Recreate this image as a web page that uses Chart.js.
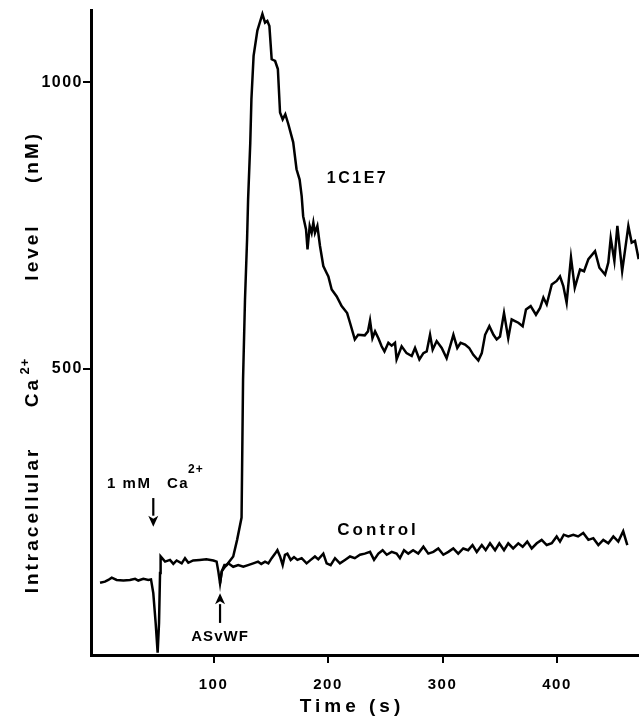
<!DOCTYPE html>
<html>
<head>
<meta charset="utf-8">
<script src="https://cdn.jsdelivr.net/npm/chart.js@4"></script>
<style>
html,body{margin:0;padding:0;background:#fff;}
#wrap{width:639px;height:718px;position:relative;}
</style>
</head>
<body>
<div id="wrap"><canvas id="c"></canvas></div>
<script>
// ---- Data (time in s, Ca2+ in nM) ----
const sampleTimes = [0.9,5.2,8.1,11.1,15.4,21.3,27.0,31.5,34.3,38.7,43.1,45.4,47.4,49.5,51.2,52.4,53.3,53.8,57.7,62.0,64.9,67.8,72.2,75.1,78.0,82.2,87.9,93.7,99.9,102.7,104.2,105.7,107.2,109.5,111.5,117.2,120.6,124.5,125.8,127.5,129.3,130.2,132.1,133.1,135.0,138.3,142.7,145.0,147.0,148.8,150.8,153.8,156.2,158.1,160.4,162.7,165.3,169.6,172.5,175.2,177.0,178.3,180.8,182.1,184.0,185.7,187.2,188.6,190.7,193.0,195.9,198.8,200.3,203.2,207.6,211.9,216.7,219.2,223.4,226.3,232.1,234.9,236.7,238.8,241.1,244.0,246.8,249.3,252.7,255.6,258.5,259.9,264.3,268.6,273.1,276.0,279.8,283.3,286.2,289.1,291.4,294.9,299.3,303.6,309.5,312.9,315.8,319.7,323.3,326.9,331.3,334.3,337.2,340.9,344.5,347.3,350.2,353.7,357.4,360.4,363.3,366.2,370.0,372.9,377.0,381.6,385.2,388.1,391.0,395.4,399.7,402.6,405.5,408.4,412.2,415.5,420.1,423.6,427.4,433.2,437.0,442.0,444.8,446.9,450.1,452.7,456.9,462.3,465.2,468.1,471.3];
const sampleValues = [126,128,131,135,131,130,131,133,130,133,131,132,108,55,4,55,143,172,163,166,159,165,160,169,161,165,166,167,165,163,146,125,146,157,157,172,201,240,481,621,725,795,894,970,1046,1090,1119,1104,1107,1098,1040,1037,1023,947,935,944,927,895,848,830,801,766,743,708,749,737,755,737,749,714,679,667,661,638,626,609,597,580,551,559,558,565,584,553,565,553,539,530,545,540,545,516,539,527,522,536,516,527,530,559,533,548,536,518,559,536,545,542,536,524,514,527,559,574,559,551,556,597,553,586,583,580,574,603,609,594,606,624,612,647,653,661,644,615,694,641,673,670,691,705,676,664,685,728,688,749,670,749,720,723,691];
const controlTimes = [105.7,107.2,110.0,112.9,117.2,121.6,126.0,130.2,134.7,138.9,141.7,145.0,147.9,150.8,153.8,155.8,158.1,160.4,162.4,164.5,167.4,170.3,173.3,177.0,181.3,184.9,188.6,191.5,195.9,198.8,202.3,206.1,210.4,214.8,219.2,223.4,227.9,232.1,236.7,240.2,244.0,247.7,251.3,255.6,259.9,262.8,266.4,270.1,274.3,278.8,283.3,287.6,292.0,296.3,300.7,305.1,309.4,313.7,318.1,322.4,326.2,329.9,334.3,337.7,341.5,345.9,349.6,353.7,357.4,361.7,366.2,370.0,374.0,377.9,382.3,386.6,391.0,395.4,399.7,402.6,405.9,409.8,414.2,418.4,422.9,427.4,431.7,436.1,440.4,444.8,449.2,453.5,457.8,461.4];
const controlValues = [125,146,154,160,154,157,154,157,160,163,159,163,160,169,177,183,172,157,175,177,166,171,166,169,160,166,172,167,177,160,157,169,160,166,172,169,175,177,180,166,177,183,175,180,177,169,183,177,183,177,189,177,180,186,175,180,186,177,186,183,192,180,192,183,195,183,195,183,195,186,195,189,198,186,195,201,192,195,207,198,210,207,210,207,213,201,204,192,201,195,207,198,216,192];
const xTickValues = [100,200,300,400];
const yTickValues = [500,1000];
const seriesNames = ['1C1E7','Control'];

// ---- Annotation anchors (data coordinates) ----
const arrowMarks = [
  {t: 47.4, from: 274, to: 224},   // 1 mM Ca2+ (points down)
  {t: 105.7, from: 56, to: 108}    // ASvWF (points up)
];

const FONT = '"Liberation Sans", Arial, Helvetica, sans-serif';

function toXY(ts, vs){ return ts.map((t,i)=>({x:t, y:vs[i]})); }

function drawArrow(ctx, x, y0, y1){
  const dir = Math.sign(y1 - y0);
  const headLen = 11, headW = 5;
  ctx.beginPath();
  ctx.lineWidth = 2.2;
  ctx.moveTo(x, y0);
  ctx.lineTo(x, y1 - dir*headLen);
  ctx.stroke();
  ctx.beginPath();
  ctx.moveTo(x, y1);
  ctx.lineTo(x - headW, y1 - dir*headLen);
  ctx.lineTo(x, y1 - dir*(headLen-3));
  ctx.lineTo(x + headW, y1 - dir*headLen);
  ctx.closePath();
  ctx.fill();
}

function txt(ctx, s, x, y, size, spacing, align){
  ctx.font = 'bold ' + size + 'px ' + FONT;
  ctx.letterSpacing = spacing + 'px';
  ctx.textAlign = align || 'left';
  ctx.textBaseline = 'middle';
  ctx.fillText(s, x, y);
}

const annot = {
  id: 'annot',
  beforeDraw(chart){ chart.ctx.letterSpacing = '1.5px'; },
  afterDraw(chart){
    const ctx = chart.ctx, xs = chart.scales.x, ys = chart.scales.y;
    const X = v => xs.getPixelForValue(v), Y = v => ys.getPixelForValue(v);
    ctx.save();
    ctx.fillStyle = '#000'; ctx.strokeStyle = '#000';
    arrowMarks.forEach(a => drawArrow(ctx, X(a.t), Y(a.from), Y(a.to)));
    // labels
    txt(ctx, '1 mM', X(7.0), Y(299), 15, 1.5, 'left');
    txt(ctx, 'Ca', X(59.4), Y(299), 15, 1.5, 'left');
    txt(ctx, '2+', X(77.7), Y(323), 12, 1, 'left');
    txt(ctx, 'ASvWF', X(105.7), Y(31), 15, 1, 'center');
    txt(ctx, seriesNames[1], X(243.7), Y(218), 17, 3, 'center');
    txt(ctx, seriesNames[0], X(225.8), Y(832), 16, 2.5, 'center');
    // x title
    txt(ctx, 'Time (s)', 352, 707, 19, 4, 'center');
    // y title (rotated, reading bottom to top)
    ctx.save();
    ctx.translate(33, 0);
    ctx.rotate(-Math.PI/2);
    txt(ctx, 'Intracellular', -520, 0, 19, 3, 'center');
    txt(ctx, 'Ca', -392, 0, 19, 3, 'center');
    txt(ctx, '2+', -366, -8, 13, 1, 'center');
    txt(ctx, 'level', -252, 0, 19, 3, 'center');
    txt(ctx, '(nM)', -157, 0, 19, 3, 'center');
    ctx.restore();
    ctx.restore();
  }
};

new Chart(document.getElementById('c'), {
  type: 'line',
  data: {
    datasets: [
      {label: seriesNames[0], data: toXY(sampleTimes, sampleValues), borderColor:'#000', borderWidth:2.5, pointRadius:0, tension:0, fill:false},
      {label: seriesNames[1], data: toXY(controlTimes, controlValues), borderColor:'#000', borderWidth:2.5, pointRadius:0, tension:0, fill:false}
    ]
  },
  options: {
    responsive: true,
    maintainAspectRatio: false,
    animation: false,
    layout: {padding: {top: 10, right: 0, left: 0, bottom: 0}},
    plugins: {legend: {display:false}, tooltip: {enabled:false}},
    scales: {
      x: {
        type: 'linear', position: 'bottom', min: -7, max: 471.6,
        border: {color:'#000', width:3},
        grid: {drawOnChartArea:false, drawTicks:true, tickLength:8, color:'#000', lineWidth:2},
        ticks: {color:'#000', font: {family: FONT, weight: 'bold', size: 15}, padding: 13, maxRotation:0, autoSkip:false},
        afterBuildTicks: s => { s.ticks = xTickValues.map(v => ({value:v})); },
        afterFit: s => { s.height = 63; }
      },
      y: {
        type: 'linear', position: 'left', min: 0, max: 1126,
        border: {color:'#000', width:3},
        grid: {drawOnChartArea:false, drawTicks:true, tickLength:8, color:'#000', lineWidth:2},
        ticks: {color:'#000', font: {family: FONT, weight: 'bold', size: 16}, padding: 0, callback: v => String(v)},
        afterBuildTicks: s => { s.ticks = yTickValues.map(v => ({value:v})); },
        afterFit: s => { s.width = 91; }
      }
    }
  },
  plugins: [annot]
});
</script>
</body>
</html>
